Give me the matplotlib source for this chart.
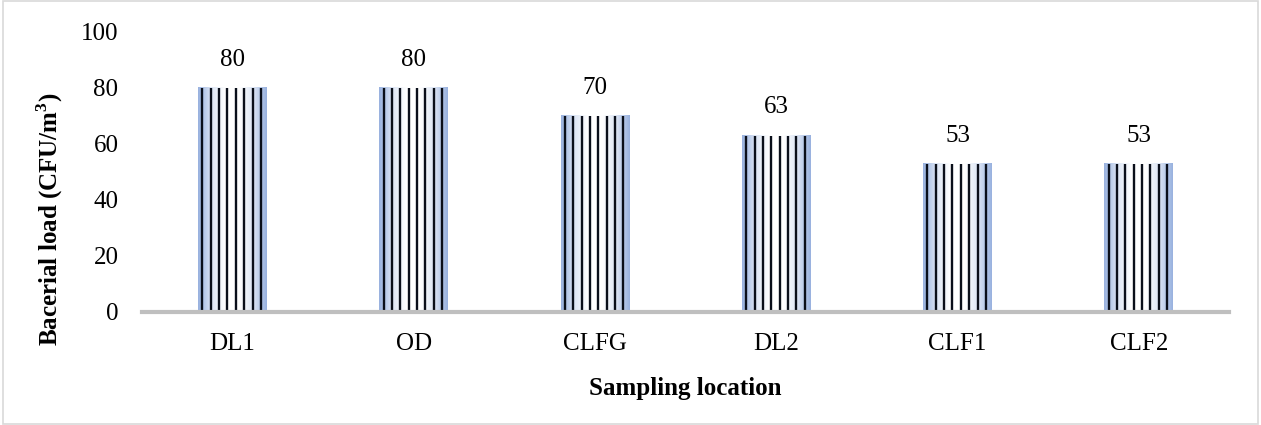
import numpy as np
import matplotlib.pyplot as plt
from matplotlib.colors import LinearSegmentedColormap
from matplotlib.patches import Rectangle

# data
locais = ["DL1", "OD", "CLFG", "DL2", "CLF1", "CLF2"]
carga = [80, 80, 70, 63, 53, 53]

plt.rcParams['font.family'] = ['Liberation Serif', 'DejaVu Serif']

fig = plt.figure(figsize=(12.61, 4.25), dpi=100)
fig.patches.append(Rectangle((0.002, 0.003), 0.996, 0.994, transform=fig.transFigure,
                             fill=False, edgecolor='#d9d9d9', linewidth=1.2))
ax = fig.add_axes([0.1126, 0.266, 0.8624, 0.659])

x = np.arange(len(locais))
largura = 0.38

# degrade azul -> branco -> azul em cada barra
cmap = LinearSegmentedColormap.from_list(
    'grad', ['#98b1df', '#dde6f5', '#ffffff', '#ffffff', '#dde6f5', '#98b1df'])
grad = np.linspace(0, 1, 256).reshape(1, -1)
for xi, v in zip(x, carga):
    ax.imshow(grad, cmap=cmap, aspect='auto', extent=(xi - largura/2, xi + largura/2, 0, v),
              zorder=1, interpolation='bicubic')
    # listras verticais pretas
    fr = (4.3 + np.arange(8) * 8.5) / 70
    ax.vlines(xi - largura/2 + fr * largura, 0, v, colors='#0a0f1a', linewidth=1.7, zorder=2)

for xi, v in zip(x, carga):
    ax.text(xi, v + 10, str(v), ha='center', va='center', fontsize=18)

ax.set_xlim(-0.5, len(locais) - 0.5)
ax.set_ylim(0, 100)
ax.set_yticks([0, 20, 40, 60, 80, 100])
ax.set_xticks(x)
ax.set_xticklabels(locais)
ax.tick_params(axis='both', length=0, labelsize=18)
ax.tick_params(axis='x', pad=15)
ax.tick_params(axis='y', pad=17)

for s in ['top', 'right', 'left']:
    ax.spines[s].set_visible(False)
ax.spines['bottom'].set_color('#bfbfbf')
ax.spines['bottom'].set_linewidth(3)
ax.spines['bottom'].set_zorder(3)

ax.set_xlabel('Sampling location', fontsize=18, fontweight='bold', labelpad=16)
ax.set_ylabel('Bacerial load (CFU/m$^\\mathregular{3}$)', fontsize=18, fontweight='bold')
ax.yaxis.set_label_coords(-0.071, 0.33)

fig.savefig('out.png', dpi=100)
